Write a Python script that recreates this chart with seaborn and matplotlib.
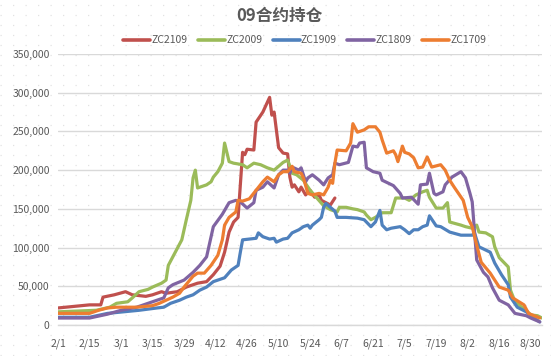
import numpy as np
import pandas as pd
import matplotlib
matplotlib.use("Agg")
import matplotlib.pyplot as plt
import seaborn as sns

# x = days since 2/1 ; values in contracts
tick_labels = ["2/1", "2/15", "3/1", "3/15", "3/29", "4/12", "4/26", "5/10",
               "5/24", "6/7", "6/21", "7/5", "7/19", "8/2", "8/16", "8/30"]
series_names = ["ZC2109", "ZC2009", "ZC1909", "ZC1809", "ZC1709"]

zc2109_days = [0, 14, 19, 20, 25, 30, 33, 39, 42, 46, 48, 53, 57, 62, 66, 69, 72, 74, 76, 78,
               80, 81, 82, 83, 84, 87, 88, 91, 94, 95, 96, 97, 98, 100, 102, 103, 104, 105, 107,
               108, 110, 112, 114, 116, 117, 119, 121, 123]
zc2109_vals = [22, 26, 26, 36, 39, 43, 39, 37, 39, 43, 41, 43, 49, 54, 56, 65, 76, 94, 120, 133,
               139, 181, 223, 220, 227, 226, 262, 275, 294, 271, 275, 252, 229, 222, 221, 191, 178,
               181, 172, 178, 168, 174, 165, 168, 161, 158, 155, 164]

zc2009_days = [0, 17, 23, 26, 31, 33, 36, 40, 42, 46, 48, 49, 51, 53, 55, 57, 59, 60, 61, 62, 66,
               68, 69, 71, 73, 74, 76, 78, 82, 84, 87, 90, 93, 96, 100, 102, 103, 104, 106, 109,
               112, 115, 118, 121, 124, 125, 128, 131, 133, 136, 137, 139, 141, 144, 148, 150,
               154, 156, 159, 162, 164, 165, 168, 171, 173, 174, 179, 181, 184, 186, 187, 190,
               193, 194, 196, 200, 201, 203, 206, 208, 210, 213, 215]
zc2009_vals = [17, 19, 23, 28, 30, 35, 43, 46, 49, 54, 58, 77, 88, 99, 110, 136, 161, 190, 200,
               177, 181, 185, 191, 198, 209, 235, 211, 209, 207, 203, 209, 207, 203, 200, 210, 213,
               205, 196, 194, 187, 174, 164, 154, 149, 146, 152, 152, 150, 149, 146, 142, 136, 139,
               145, 145, 164, 164, 161, 168, 172, 174, 165, 151, 151, 158, 133, 129, 127, 125, 129,
               120, 119, 114, 101, 87, 75, 45, 30, 23, 19, 13, 12, 9]

zc1909_days = [0, 14, 22, 29, 36, 44, 47, 50, 54, 57, 60, 63, 66, 69, 74, 77, 80, 81, 82, 85, 88,
               89, 91, 94, 96, 97, 100, 102, 104, 107, 109, 111, 112, 113, 116, 117, 118, 119, 121,
               123, 124, 128, 133, 136, 139, 141, 143, 144, 146, 148, 152, 154, 156, 158, 160, 162,
               164, 165, 168, 170, 174, 179, 184, 185, 187, 192, 194, 197, 200, 201, 204, 208, 211,
               214]
zc1909_vals = [10, 10, 15, 17, 19, 22, 23, 28, 32, 36, 39, 45, 49, 56, 61, 71, 77, 94, 110, 111,
               112, 119, 114, 111, 112, 107, 111, 112, 119, 123, 127, 129, 125, 129, 136, 139, 152,
               157, 152, 147, 139, 139, 138, 136, 127, 133, 148, 129, 123, 125, 127, 123, 118, 123,
               123, 127, 129, 141, 128, 127, 120, 116, 116, 119, 101, 94, 80, 65, 52, 36, 23, 17, 10,
               4]

zc1809_days = [0, 14, 22, 28, 35, 42, 47, 49, 51, 56, 60, 63, 66, 69, 73, 76, 79, 81, 84, 87, 88,
               91, 93, 96, 98, 100, 102, 103, 104, 107, 108, 110, 111, 113, 116, 118, 120, 122, 123,
               125, 129, 131, 133, 134, 136, 137, 140, 143, 144, 149, 152, 153, 157, 160, 161, 164,
               165, 167, 168, 171, 172, 175, 179, 181, 183, 184, 186, 189, 191, 193, 196, 200, 203,
               208, 210, 214]
zc1809_vals = [9, 9, 14, 19, 23, 30, 35, 48, 52, 58, 68, 77, 88, 127, 143, 158, 161, 159, 151,
               158, 174, 178, 185, 177, 194, 200, 200, 196, 204, 200, 203, 185, 190, 194, 187, 181,
               190, 194, 209, 207, 210, 231, 230, 235, 236, 203, 198, 196, 187, 180, 170, 164, 165,
               156, 181, 182, 196, 170, 168, 172, 181, 191, 198, 190, 170, 159, 84, 68, 62, 48, 32,
               26, 15, 12, 9, 4]

zc1709_days = [0, 14, 16, 18, 22, 26, 35, 42, 45, 48, 51, 54, 56, 60, 62, 65, 68, 71, 73, 74, 76,
               79, 80, 82, 85, 88, 91, 93, 96, 98, 100, 102, 104, 105, 108, 109, 111, 113, 116, 118,
               120, 121, 122, 123, 124, 128, 130, 131, 133, 136, 138, 141, 143, 144, 146, 149, 150,
               151, 153, 154, 156, 158, 160, 162, 164, 166, 170, 172, 174, 176, 180, 182, 184, 186,
               188, 192, 196, 200, 202, 207, 209, 214]
zc1709_vals = [15, 15, 17, 19, 22, 23, 23, 25, 28, 32, 36, 41, 49, 63, 67, 67, 77, 90, 110, 129,
               139, 146, 161, 160, 163, 174, 185, 191, 185, 194, 198, 198, 205, 198, 196, 190, 170,
               168, 170, 168, 178, 187, 183, 209, 226, 225, 235, 260, 249, 252, 256, 256, 249, 239,
               222, 225, 220, 211, 231, 223, 221, 216, 203, 204, 217, 204, 207, 200, 187, 178, 161,
               139, 127, 103, 81, 67, 49, 45, 35, 26, 15, 9]

all_days = [zc2109_days, zc2009_days, zc1909_days, zc1809_days, zc1709_days]
all_vals = [zc2109_vals, zc2009_vals, zc1909_vals, zc1809_vals, zc1709_vals]
frames = []
for name, d, v in zip(series_names, all_days, all_vals):
    frames.append(pd.DataFrame({"day": d, "oi": np.array(v) * 1000, "series": name}))
df = pd.concat(frames, ignore_index=True)

colors = ["#C0504D", "#9BBB59", "#4F81BD", "#8064A2", "#ED7D31"]

sns.set_theme(style="white")
plt.rcParams['font.family'] = ['Noto Sans CJK SC', 'DejaVu Sans']

fig = plt.figure(figsize=(5.51, 3.56), dpi=100)
fig.patch.set_facecolor("white")

# dotted background pattern
bg = fig.add_axes([0, 0, 1, 1], zorder=-10)
bg.set_xlim(0, 551)
bg.set_ylim(356, 0)
bg.axis("off")
for yy in np.arange(5, 356, 10):
    bg.plot([0, 551], [yy, yy], color="#e2e2e2", lw=0.9, linestyle=(0, (1, 9)))

ax = fig.add_axes([58 / 551, 1 - 325 / 356, (542 - 58) / 551, (325 - 54) / 356])
ax.patch.set_alpha(0)

sns.lineplot(data=df, x="day", y="oi", hue="series", hue_order=series_names,
             palette=colors, linewidth=2.3, ax=ax, legend=False, sort=False,
             estimator=None)

ax.set_xlim(0, 215)
ax.set_ylim(0, 350000)
ax.set_yticks(np.arange(0, 350001, 50000))
ax.set_yticklabels([f"{int(v):,}" for v in np.arange(0, 350001, 50000)])
ax.set_xticks(np.arange(0, 14 * len(tick_labels), 14))
ax.set_xticklabels(tick_labels)
ax.tick_params(axis="both", labelsize=7.5, colors="#595959")
ax.tick_params(axis="x", length=4, color="#d9d9d9", width=0.8, pad=6)
ax.tick_params(axis="y", length=0, pad=6)
ax.yaxis.grid(True, color="#d9d9d9", linewidth=1.0)
ax.set_axisbelow(True)
for s in ["top", "right", "left"]:
    ax.spines[s].set_visible(False)
ax.spines["bottom"].set_color("#d9d9d9")
ax.spines["bottom"].set_linewidth(1.0)
ax.set_xlabel("")
ax.set_ylabel("")

fig.text(0.507, 0.955, "09合约持仓", ha="center", va="center", fontsize=12,
         fontweight="bold", color="#595959")

handles = [plt.Line2D([0], [0], color=c, lw=2.6) for c in colors]
fig.legend(handles, series_names, loc="center", bbox_to_anchor=(0.553, 0.887),
           ncol=5, frameon=False, fontsize=7.5, labelcolor="#595959",
           handlelength=2.6, handletextpad=0.1, columnspacing=1.0)

fig.savefig("out.png", dpi=100)
